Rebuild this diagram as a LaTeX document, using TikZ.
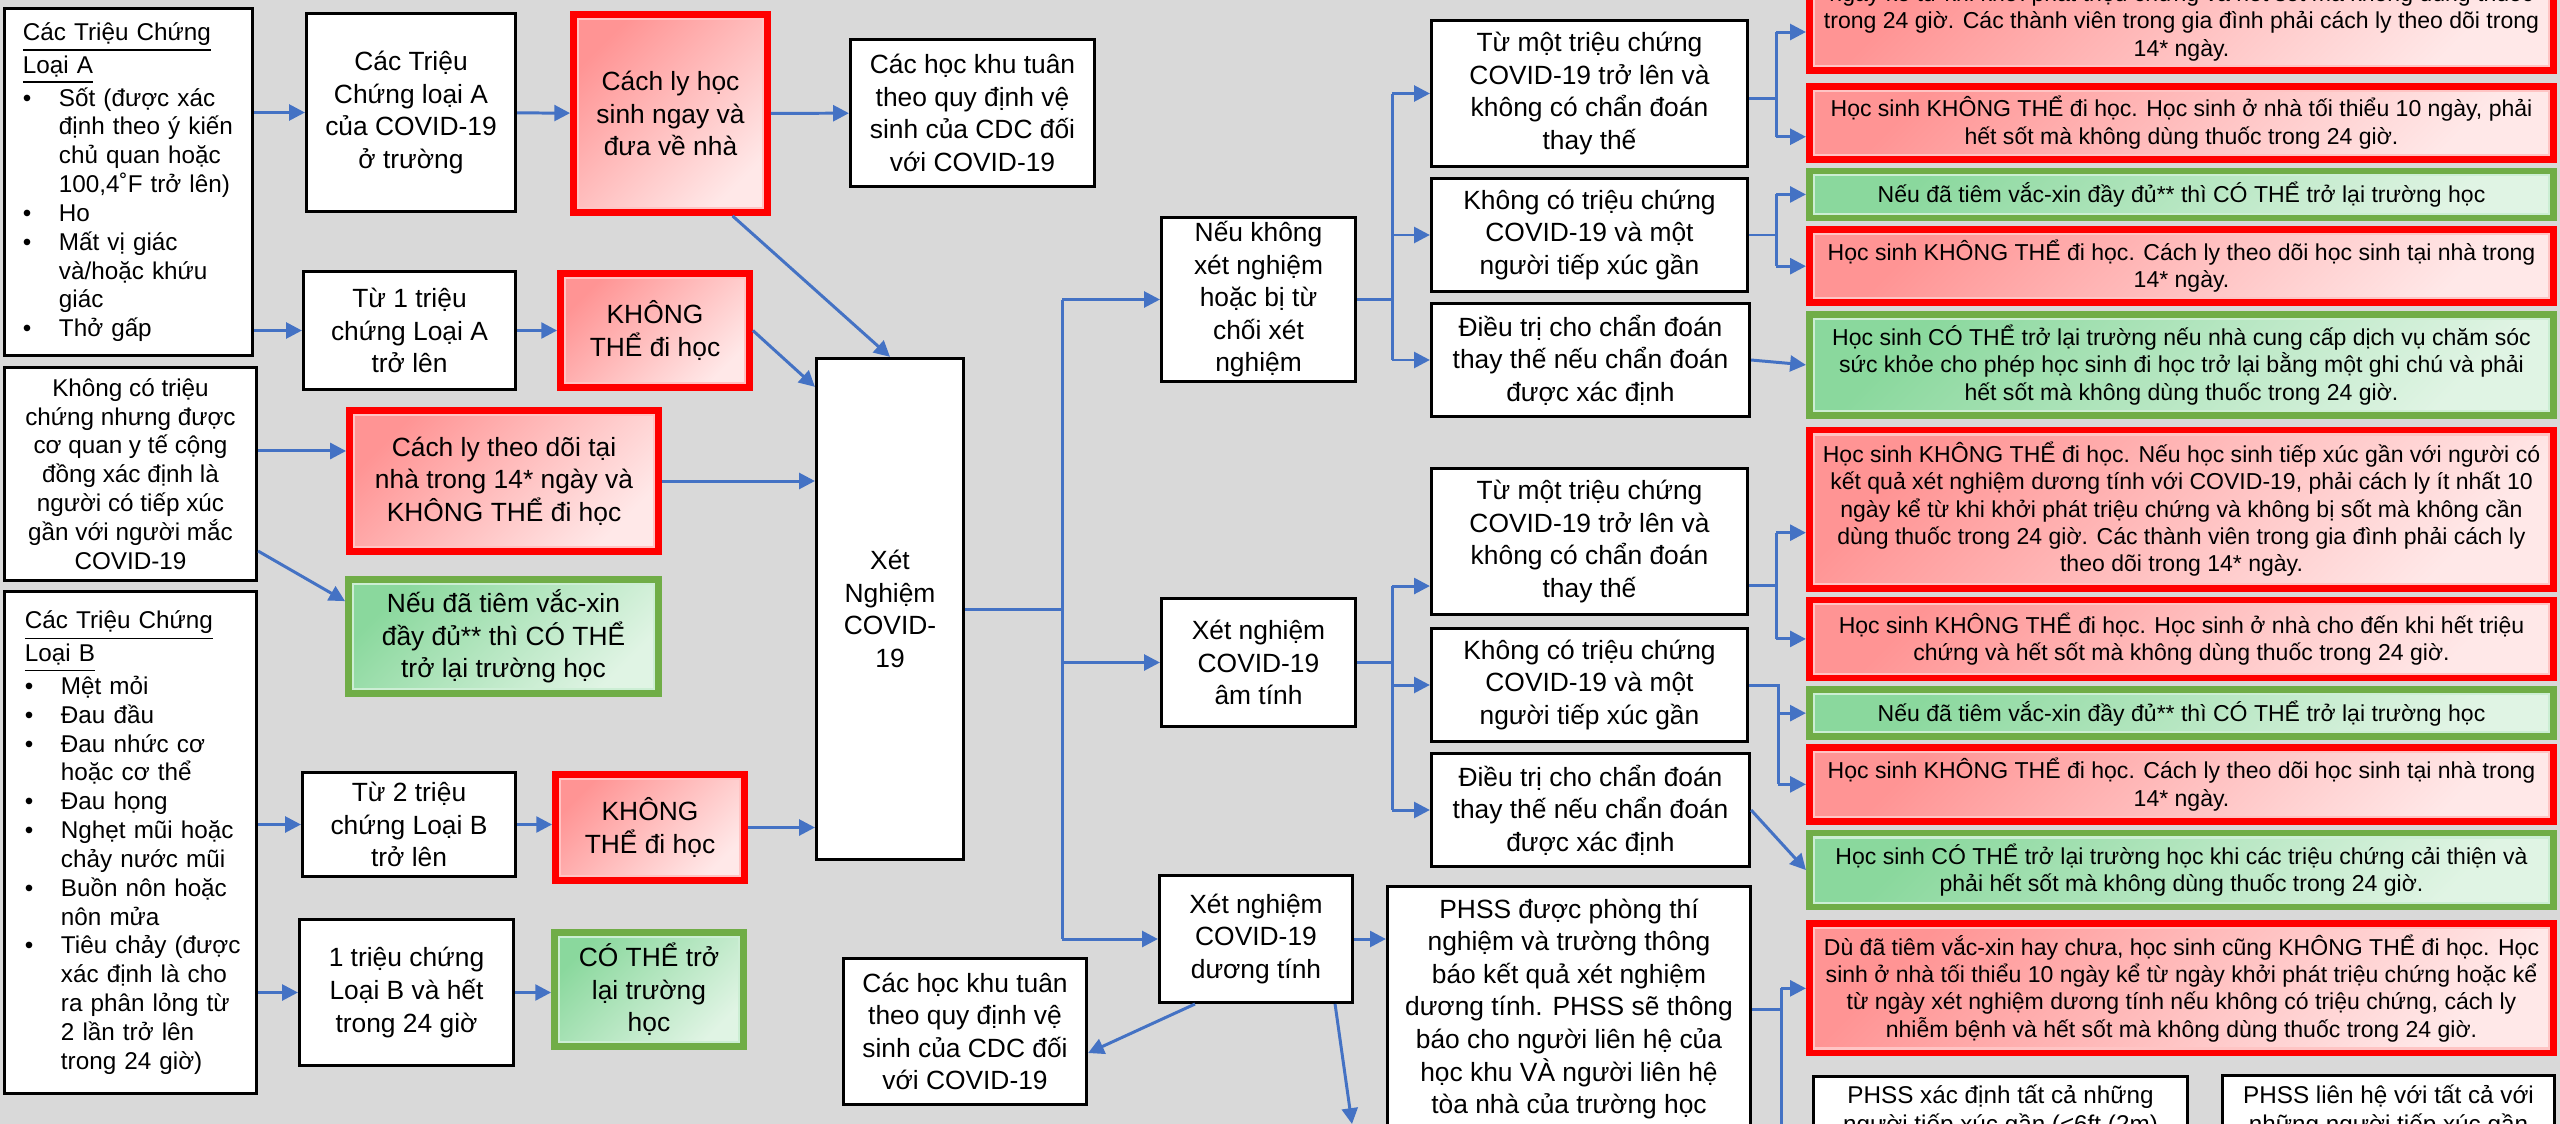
\documentclass[tikz,border=0pt]{standalone}
\usepackage{fontspec}
\setmainfont{Liberation Sans}
\usetikzlibrary{positioning}
\usetikzlibrary{calc}
\usetikzlibrary{arrows.meta}
\definecolor{linkblue}{RGB}{68,114,196}
\definecolor{backgray}{RGB}{217,217,217}
\definecolor{stopred}{RGB}{255,0,0}
\definecolor{stopdark}{RGB}{255,148,148}
\definecolor{stoplight}{RGB}{255,232,232}
\definecolor{stoprim}{RGB}{255,196,196}
\definecolor{gogreen}{RGB}{112,173,71}
\definecolor{godark}{RGB}{138,216,157}
\definecolor{golight}{RGB}{224,244,228}
\definecolor{gorim}{RGB}{204,238,212}
\newcommand{\boxfont}{\fontsize{7.5}{9.25}\selectfont}
\newcommand{\listfont}{\fontsize{6.9}{8.2}\selectfont}
\newcommand{\notefont}{\fontsize{6.55}{7.8}\selectfont}
\newcommand{\bulletmark}{\makebox[0.36cm][l]{\textbullet}}
\newcommand{\hangspace}{\hspace*{0.36cm}}

\begin{document}
\begin{tikzpicture}[
    x=0.01cm, y=-0.01cm,
    plain/.style={rectangle, draw=black, line width=0.85pt, fill=white, align=center, inner sep=0pt, font=\boxfont},
    stopbox/.style={rectangle, draw=stopred, line width=1.9pt, top color=stopdark, bottom color=stoplight, shading angle=45, align=center, inner sep=0pt, font=\boxfont,
        path picture={\draw[stoprim, line width=3.1pt] (path picture bounding box.south west) rectangle (path picture bounding box.north east);}},
    gobox/.style={stopbox, draw=gogreen, top color=godark, bottom color=golight, shading angle=45,
        path picture={\draw[gorim, line width=3.1pt] (path picture bounding box.south west) rectangle (path picture bounding box.north east);}},
    note/.style={font=\notefont, minimum width=7.44cm},
    link/.style={draw=linkblue, line width=0.85pt},
    >={Triangle[length=4.5pt, width=4.5pt]}
]
    \useasboundingbox (0,0) rectangle (2560,1124);
    \fill[backgray] (0,0) rectangle (2560,1124);
    \clip (0,0) rectangle (2560,1124);

    \node[plain, font=\listfont, align=left, text width=2.11cm, minimum width=2.48cm, minimum height=3.47cm] (symA) at (128.5,182) {\underline{Các Triệu Chứng}\\
        \underline{Loại A}\\
        \bulletmark Sốt (được xác\\
        \hangspace định theo ý kiến\\
        \hangspace chủ quan hoặc\\
        \hangspace 100,4˚F trở lên)\\
        \bulletmark Ho\\
        \bulletmark Mất vị giác\\
        \hangspace và/hoặc khứu\\
        \hangspace giác\\
        \bulletmark Thở gấp};
    \node[plain, font=\listfont, minimum width=2.52cm, minimum height=2.13cm] (nosym) at (130.5,474) {Không có triệu\\chứng nhưng được\\cơ quan y tế cộng\\đồng xác định là\\người có tiếp xúc\\gần với người mắc\\COVID-19};
    \node[plain, font=\listfont, align=left, text width=2.11cm, minimum width=2.52cm, minimum height=5.02cm] (symB) at (130.5,842.5) {\underline{Các Triệu Chứng}\\
        \underline{Loại B}\\
        \bulletmark Mệt mỏi\\
        \bulletmark Đau đầu\\
        \bulletmark Đau nhức cơ\\
        \hangspace hoặc cơ thể\\
        \bulletmark Đau họng\\
        \bulletmark Nghẹt mũi hoặc\\
        \hangspace chảy nước mũi\\
        \bulletmark Buồn nôn hoặc\\
        \hangspace nôn mửa\\
        \bulletmark \mbox{Tiêu chảy (được}\\
        \hangspace xác định là cho\\
        \hangspace ra phân lỏng từ\\
        \hangspace 2 lần trở lên\\
        \hangspace trong 24 giờ)};

    \node[plain, minimum width=2.09cm, minimum height=1.98cm] (cA) at (411,112.5) {Các Triệu\\Chứng loại A\\của COVID-19\\ở trường};
    \node[plain, minimum width=2.12cm, minimum height=1.18cm] (from1A) at (409.5,330.5) {Từ 1 triệu\\chứng Loại A\\trở lên};
    \node[plain, minimum width=2.13cm, minimum height=1.04cm] (from2B) at (409,824.5) {Từ 2 triệu\\chứng Loại B\\trở lên};
    \node[plain, minimum width=2.14cm, minimum height=1.46cm] (one1B) at (406.5,992.5) {1 triệu chứng\\Loại B và hết\\trong 24 giờ};

    \node[stopbox, minimum width=1.94cm, minimum height=1.98cm] (redA) at (670.5,113.5) {Cách ly học\\sinh ngay và\\đưa về nhà};
    \node[stopbox, minimum width=1.89cm, minimum height=1.14cm] (noA) at (655,330.5) {KHÔNG\\THỂ đi học};
    \node[stopbox, minimum width=3.09cm, minimum height=1.41cm] (quar) at (504,481) {Cách ly theo dõi tại\\nhà trong 14* ngày và\\KHÔNG THỂ đi học};
    \node[gobox, minimum width=3.10cm, minimum height=1.14cm] (vacc) at (503.5,636.5) {Nếu đã tiêm vắc-xin\\đầy đủ** thì CÓ THỂ\\trở lại trường học};
    \node[stopbox, minimum width=1.89cm, minimum height=1.06cm] (noB) at (650,827.5) {KHÔNG\\THỂ đi học};
    \node[gobox, minimum width=1.89cm, minimum height=1.14cm] (canB) at (649,989.5) {CÓ THỂ trở\\lại trường\\học};

    \node[plain, minimum width=2.44cm, minimum height=1.47cm] (cdcTop) at (972.5,113) {Các học khu tuân\\theo quy định vệ\\sinh của CDC đối\\với COVID-19};
    \node[plain, minimum width=1.47cm, minimum height=5.01cm] (xet) at (890,609) {Xét\\Nghiệm\\COVID-\\19};
    \node[plain, minimum width=2.43cm, minimum height=1.46cm] (cdcBot) at (965,1031.5) {Các học khu tuân\\theo quy định vệ\\sinh của CDC đối\\với COVID-19};

    \node[plain, minimum width=1.94cm, minimum height=1.64cm] (neuKhong) at (1258.5,299.5) {Nếu không\\xét nghiệm\\hoặc bị từ\\chối xét\\nghiệm};
    \node[plain, minimum width=1.94cm, minimum height=1.28cm] (amTinh) at (1258.5,662.5) {Xét nghiệm\\COVID-19\\âm tính};
    \node[plain, minimum width=1.93cm, minimum height=1.27cm] (duong) at (1256,939) {Xét nghiệm\\COVID-19\\dương tính};

    \node[plain, minimum width=3.16cm, minimum height=1.46cm] (tu1) at (1589.5,93.5) {Từ một triệu chứng\\COVID-19 trở lên và\\không có chẩn đoán\\thay thế};
    \node[plain, minimum width=3.16cm, minimum height=1.13cm] (khong1) at (1589.5,235) {Không có triệu chứng\\COVID-19 và một\\người tiếp xúc gần};
    \node[plain, minimum width=3.18cm, minimum height=1.13cm] (dieu1) at (1590.5,360) {Điều trị cho chẩn đoán\\thay thế nếu chẩn đoán\\được xác định};
    \node[plain, minimum width=3.16cm, minimum height=1.46cm] (tu2) at (1589.5,541.5) {Từ một triệu chứng\\COVID-19 trở lên và\\không có chẩn đoán\\thay thế};
    \node[plain, minimum width=3.16cm, minimum height=1.13cm] (khong2) at (1589.5,685) {Không có triệu chứng\\COVID-19 và một\\người tiếp xúc gần};
    \node[plain, minimum width=3.18cm, minimum height=1.13cm] (dieu2) at (1590.5,810) {Điều trị cho chẩn đoán\\thay thế nếu chẩn đoán\\được xác định};
    \node[plain, minimum width=3.63cm, minimum height=2.45cm] (phss) at (1569,1009) {PHSS được phòng thí\\nghiệm và trường thông\\báo kết quả xét nghiệm\\dương tính. PHSS sẽ thông\\báo cho người liên hệ của\\học khu VÀ người liên hệ\\tòa nhà của trường học};

    \node[stopbox, note, minimum height=0.97cm] (R1) at (2181.5,22) {ngày kể từ khi khởi phát triệu chứng và hết sốt mà không dùng thuốc\\trong 24 giờ. Các thành viên trong gia đình phải cách ly theo dõi trong\\14* ngày.};
    \node[stopbox, note, minimum height=0.73cm, below=0.09cm of R1] (R2) {Học sinh KHÔNG THỂ đi học. Học sinh ở nhà tối thiểu 10 ngày, phải\\hết sốt mà không dùng thuốc trong 24 giờ.};
    \node[gobox, note, minimum height=0.47cm, below=0.05cm of R2] (G3) {Nếu đã tiêm vắc-xin đầy đủ** thì CÓ THỂ trở lại trường học};
    \node[stopbox, note, minimum height=0.73cm, below=0.05cm of G3] (R4) {Học sinh KHÔNG THỂ đi học. Cách ly theo dõi học sinh tại nhà trong\\14* ngày.};
    \node[gobox, note, minimum height=1.01cm, below=0.05cm of R4] (G5) {Học sinh CÓ THỂ trở lại trường nếu nhà cung cấp dịch vụ chăm sóc\\sức khỏe cho phép học sinh đi học trở lại bằng một ghi chú và phải\\hết sốt mà không dùng thuốc trong 24 giờ.};
    \node[stopbox, note, minimum height=1.58cm, below=0.08cm of G5] (R6) {Học sinh KHÔNG THỂ đi học. Nếu học sinh tiếp xúc gần với người có\\kết quả xét nghiệm dương tính với COVID-19, phải cách ly ít nhất 10\\ngày kể từ khi khởi phát triệu chứng và không bị sốt mà không cần\\dùng thuốc trong 24 giờ. Các thành viên trong gia đình phải cách ly\\theo dõi trong 14* ngày.};
    \node[stopbox, note, minimum height=0.78cm, below=0.05cm of R6] (R7) {Học sinh KHÔNG THỂ đi học. Học sinh ở nhà cho đến khi hết triệu\\chứng và hết sốt mà không dùng thuốc trong 24 giờ.};
    \node[gobox, note, minimum height=0.47cm, below=0.05cm of R7] (G8) {Nếu đã tiêm vắc-xin đầy đủ** thì CÓ THỂ trở lại trường học};
    \node[stopbox, note, minimum height=0.74cm, below=0.04cm of G8] (R9) {Học sinh KHÔNG THỂ đi học. Cách ly theo dõi học sinh tại nhà trong\\14* ngày.};
    \node[gobox, note, minimum height=0.74cm, below=0.05cm of R9] (G10) {Học sinh CÓ THỂ trở lại trường học khi các triệu chứng cải thiện và\\phải hết sốt mà không dùng thuốc trong 24 giờ.};
    \node[stopbox, note, minimum height=1.29cm, below=0.10cm of G10] (R11) {Dù đã tiêm vắc-xin hay chưa, học sinh cũng KHÔNG THỂ đi học. Học\\sinh ở nhà tối thiểu 10 ngày kể từ ngày khởi phát triệu chứng hoặc kể\\từ ngày xét nghiệm dương tính nếu không có triệu chứng, cách ly\\nhiễm bệnh và hết sốt mà không dùng thuốc trong 24 giờ.};
    \node[plain, font=\listfont, minimum width=3.74cm, minimum height=0.70cm] (find) at (2000.5,1111.5) {PHSS xác định tất cả những\\người tiếp xúc gần (<6ft (2m)};
    \node[plain, font=\listfont, minimum width=3.32cm, minimum height=0.71cm] (call) at (2388.5,1111) {PHSS liên hệ với tất cả với\\những người tiếp xúc gần};

    \draw[link,->] (symA.east |- cA) -- (cA);
    \draw[link,->] (cA) -- (redA);
    \draw[link,->] (redA) -- (cdcTop);
    \draw[link,->] (symA.east |- from1A) -- (from1A);
    \draw[link,->] (from1A) -- (noA);
    \draw[link,->] (noA.east) -- ([yshift=-0.3cm]xet.north west);
    \draw[link,->] ([xshift=0.62cm]redA.south) -- (xet.north);
    \coordinate (quarIn) at ([yshift=0.3cm]quar.west);
    \draw[link,->] (nosym.east |- quarIn) -- (quarIn);
    \draw[link,->] (quar.east) -- (quar.east -| xet.west);
    \draw[link,->] ([yshift=0.31cm]nosym.south east) -- ([yshift=-0.25cm]vacc.north west);
    \draw[link,->] (symB.east |- from2B) -- (from2B);
    \draw[link,->] (from2B) -- (from2B -| noB.west);
    \draw[link,->] (noB.east) -- (noB.east -| xet.west);
    \draw[link,->] (symB.east |- one1B) -- (one1B);
    \draw[link,->] (one1B) -- (one1B -| canB.west);

    \coordinate (split) at ([xshift=0.97cm]xet.east);
    \draw[link] (xet.east) -- (split);
    \draw[link] (split |- neuKhong) -- (split |- duong);
    \draw[link,->] (split |- neuKhong) -- (neuKhong);
    \draw[link,->] (split |- amTinh) -- (amTinh);
    \draw[link,->] (split |- duong) -- (duong);

    \coordinate (fk1) at ([xshift=0.35cm]neuKhong.east);
    \draw[link] (neuKhong.east) -- (fk1);
    \draw[link] (fk1 |- tu1) -- (fk1 |- dieu1);
    \draw[link,->] (fk1 |- tu1) -- (tu1);
    \draw[link,->] (fk1 |- khong1) -- (khong1);
    \draw[link,->] (fk1 |- dieu1) -- (dieu1);

    \coordinate (fk2) at ([xshift=0.35cm]amTinh.east);
    \coordinate (tu2In) at ([yshift=-0.445cm]tu2.west);
    \draw[link] (amTinh.east) -- (fk2);
    \draw[link] (fk2 |- tu2In) -- (fk2 |- dieu2);
    \draw[link,->] (fk2 |- tu2In) -- (tu2In);
    \draw[link,->] (fk2 |- khong2) -- (khong2);
    \draw[link,->] (fk2 |- dieu2) -- (dieu2);

    \coordinate (fk3) at ([xshift=0.27cm, yshift=-0.05cm]tu1.east);
    \coordinate (r1In) at ([yshift=-0.10cm]R1.west);
    \coordinate (r2In) at ([yshift=-0.14cm]R2.west);
    \draw[link] ([yshift=-0.05cm]tu1.east) -- (fk3);
    \draw[link] (fk3 |- r1In) -- (fk3 |- r2In);
    \draw[link,->] (fk3 |- r1In) -- (r1In);
    \draw[link,->] (fk3 |- r2In) -- (r2In);

    \coordinate (fk4) at ([xshift=0.27cm]khong1.east);
    \draw[link] (khong1.east) -- (fk4);
    \draw[link] (fk4 |- G3) -- (fk4 |- R4);
    \draw[link,->] (fk4 |- G3) -- (G3);
    \draw[link,->] (fk4 |- R4) -- (R4);
    \draw[link,->] (dieu1.east) -- (G5.west);

    \coordinate (fk5) at ([xshift=0.27cm, yshift=-0.44cm]tu2.east);
    \coordinate (r6In) at ([yshift=-0.235cm]R6.west);
    \draw[link] ([yshift=-0.44cm]tu2.east) -- (fk5);
    \draw[link] (fk5 |- r6In) -- (fk5 |- R7);
    \draw[link,->] (fk5 |- r6In) -- (r6In);
    \draw[link,->] (fk5 |- R7) -- (R7);

    \coordinate (fk6) at ([xshift=0.29cm]khong2.east);
    \draw[link] (khong2.east) -- (fk6) -- (fk6 |- R9);
    \draw[link,->] (fk6 |- G8) -- (G8);
    \draw[link,->] (fk6 |- R9) -- (R9);
    \draw[link,->] (dieu2.east) -- (G10.west);

    \draw[link,->] (duong.east) -- (duong.east -| phss.west);
    \coordinate (fk7) at ([xshift=0.29cm]phss.east);
    \coordinate (lowEnd) at ([yshift=-2cm]fk7);
    \draw[link] (phss.east) -- (fk7);
    \draw[link] (fk7 |- R11) -- (lowEnd);
    \draw[link,->] (fk7 |- R11) -- (R11);

    \coordinate (belowEnd) at (1352,1124);
    \draw[link,->] ([xshift=-0.61cm]duong.south) -- ([yshift=-0.215cm]cdcBot.east);
    \draw[link,->] ([xshift=0.79cm]duong.south) -- (belowEnd);
\end{tikzpicture}
\end{document}
